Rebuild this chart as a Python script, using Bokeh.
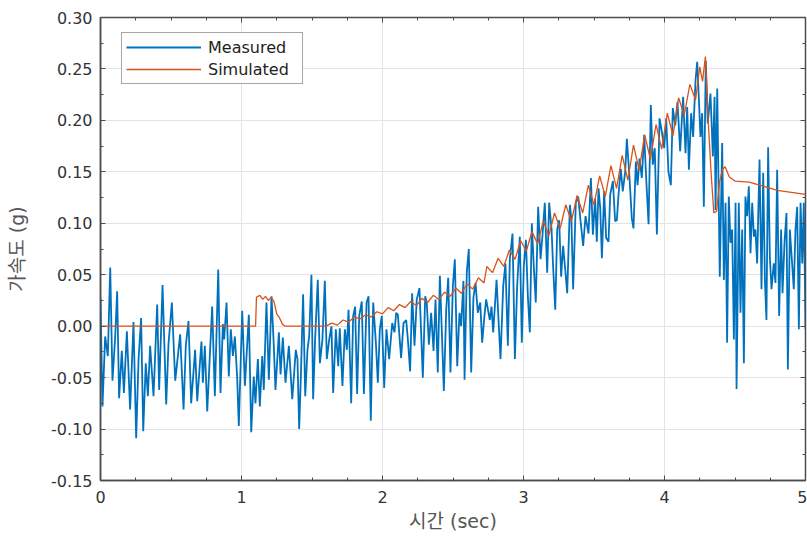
from bokeh.plotting import figure
from bokeh.models import (Range1d, LinearAxis, FixedTicker,
                          NumeralTickFormatter, Legend, LegendItem)
from bokeh.embed import file_html
from bokeh.resources import INLINE

# ---------------- data ----------------
meas_t = [
    0.000, 0.014, 0.033, 0.052, 0.069, 0.085, 0.104, 0.118, 0.132, 0.151,
    0.166, 0.187, 0.210, 0.234, 0.253, 0.270, 0.288, 0.303, 0.321, 0.336,
    0.352, 0.376, 0.402, 0.416, 0.440, 0.466, 0.482, 0.506, 0.530, 0.565,
    0.589, 0.605, 0.624, 0.643, 0.671,
    0.686, 0.716, 0.726, 0.740, 0.757, 0.773, 0.792, 0.811, 0.835, 0.851,
    0.868, 0.877, 0.894, 0.910, 0.924, 0.939, 0.953, 0.969, 0.981, 1.005,
    1.024, 1.052, 1.069, 1.087, 1.099, 1.116, 1.130, 1.147, 1.158, 1.177,
    1.194, 1.213, 1.229, 1.241, 1.265, 1.277, 1.293, 1.312, 1.336, 1.360,
    1.385, 1.397, 1.409, 1.421, 1.437, 1.452, 1.468, 1.480, 1.496, 1.508,
    1.522, 1.541, 1.556, 1.574, 1.591, 1.605, 1.622, 1.638, 1.650, 1.669,
    1.686, 1.697, 1.716, 1.733, 1.747, 1.759, 1.778, 1.792, 1.806, 1.820,
    1.835, 1.853, 1.868, 1.887, 1.901, 1.917, 1.934, 1.953, 1.967, 1.981,
    1.995, 2.012, 2.028, 2.047,
    2.069, 2.085, 2.097, 2.109, 2.132, 2.149, 2.168, 2.180, 2.196, 2.210,
    2.227, 2.243, 2.262, 2.286, 2.303, 2.314, 2.329, 2.345, 2.362, 2.376,
    2.392, 2.407, 2.421, 2.435, 2.452, 2.466, 2.482, 2.499, 2.513, 2.530,
    2.546, 2.558, 2.574, 2.582, 2.598, 2.612, 2.629, 2.645, 2.660, 2.676,
    2.693, 2.707, 2.723, 2.735,
    2.761, 2.773, 2.785, 2.809, 2.825, 2.837, 2.856, 2.872, 2.889, 2.903,
    2.922, 2.939, 2.955, 2.974, 2.988, 3.002, 3.017, 3.031, 3.045, 3.059,
    3.073, 3.087, 3.104, 3.121, 3.135, 3.151, 3.168, 3.182, 3.199, 3.210,
    3.225, 3.239, 3.253, 3.267, 3.281, 3.296, 3.310, 3.329, 3.340, 3.352,
    3.371, 3.388, 3.404, 3.423, 3.440,
    3.461, 3.478, 3.492, 3.508, 3.520, 3.532, 3.544, 3.556, 3.572, 3.586,
    3.603, 3.615, 3.634, 3.650, 3.662, 3.674, 3.690, 3.704, 3.721, 3.733,
    3.752, 3.768, 3.780, 3.797, 3.809, 3.823, 3.839, 3.856, 3.870, 3.887,
    3.903, 3.917, 3.931, 3.946, 3.965, 3.981, 3.998, 4.012, 4.028, 4.045,
    4.059, 4.076, 4.092, 4.111,
    4.132, 4.149, 4.161, 4.173, 4.189, 4.203, 4.220, 4.232, 4.243, 4.255,
    4.267, 4.279, 4.293, 4.307, 4.326, 4.343, 4.355, 4.362, 4.374, 4.392,
    4.409, 4.421, 4.433, 4.444, 4.456, 4.468, 4.480, 4.492, 4.504, 4.511,
    4.527, 4.539, 4.551, 4.563, 4.574, 4.586, 4.598, 4.610, 4.622, 4.634,
    4.645, 4.657, 4.674, 4.688, 4.700, 4.712, 4.723, 4.735, 4.747, 4.759,
    4.775, 4.787, 4.799, 4.813, 4.827, 4.837, 4.851, 4.865, 4.875, 4.889,
    4.905, 4.917, 4.929, 4.941, 4.953, 4.965, 4.977, 4.988, 5.000,
]
meas_v = [
    0.027, -0.078, -0.010, -0.029, 0.057, -0.053, -0.011, 0.034, -0.070, -0.024,
    -0.065, -0.005, -0.081, 0.004, -0.109, -0.032, 0.008, -0.102, -0.036, -0.068,
    -0.019, -0.068, 0.021, -0.062, 0.040, -0.076, -0.018, 0.023, -0.053, -0.008,
    -0.081, -0.019, 0.005, -0.075, -0.023,
    -0.073, -0.015, -0.055, -0.019, -0.083, -0.036, 0.019, -0.068, 0.055, -0.065,
    0.002, -0.013, 0.023, -0.049, -0.003, -0.029, -0.010, -0.049, -0.097, 0.015,
    -0.058, 0.011, -0.103, -0.049, -0.075, -0.032, -0.078, -0.029, -0.062, 0.023,
    -0.052, 0.029, -0.019, -0.062, -0.006, -0.047, -0.011, -0.055, -0.019, -0.071,
    -0.023, -0.032, -0.100, -0.049, 0.031, -0.068, -0.023, -0.010, 0.050, -0.071,
    -0.013, 0.045, -0.036, -0.013, 0.044, -0.032, -0.013, 0.000, -0.065, -0.003,
    -0.039, -0.002, -0.058, -0.003, -0.023, 0.016, -0.075, 0.010, 0.019, -0.066,
    0.010, 0.024, -0.066, 0.023, 0.029, -0.092, 0.023, -0.016, -0.055, -0.003,
    0.010, -0.060, -0.003, -0.032,
    0.003, -0.006, 0.013, 0.011, -0.031, 0.003, 0.006, -0.013, -0.044, 0.032,
    -0.019, 0.026, 0.037, -0.050, 0.029, 0.023, -0.018, 0.013, -0.024, 0.026,
    -0.045, 0.049, -0.006, -0.063, 0.016, 0.047, -0.045, 0.039, 0.065, -0.039,
    0.013, 0.000, 0.044, -0.052, 0.053, 0.075, -0.045, 0.028, 0.042, 0.013,
    0.023, -0.016, 0.010, 0.026,
    0.006, 0.019, -0.006, 0.045, 0.000, -0.032, 0.039, 0.061, -0.019, 0.065,
    0.090, -0.032, 0.039, 0.087, -0.016, 0.058, 0.084, 0.029, -0.006, 0.100,
    0.058, 0.023, 0.116, 0.065, 0.089, 0.120, 0.052, 0.120, 0.094, 0.058,
    0.016, 0.094, 0.103, 0.048, 0.078, 0.055, 0.032, 0.118, 0.103, 0.036,
    0.120, 0.126, 0.103, 0.078, 0.107,
    0.090, 0.144, 0.089, 0.124, 0.082, 0.134, 0.115, 0.066, 0.131, 0.086,
    0.082, 0.128, 0.141, 0.102, 0.103, 0.128, 0.153, 0.131, 0.150, 0.182,
    0.144, 0.105, 0.095, 0.160, 0.137, 0.163, 0.144, 0.186, 0.144, 0.099,
    0.215, 0.157, 0.173, 0.089, 0.202, 0.189, 0.173, 0.202, 0.150, 0.137,
    0.212, 0.195, 0.218, 0.170,
    0.223, 0.168, 0.213, 0.152, 0.207, 0.184, 0.239, 0.257, 0.223, 0.184,
    0.207, 0.116, 0.258, 0.197, 0.226, 0.165, 0.223, 0.113, 0.231, 0.048,
    0.178, 0.045, 0.120, -0.016, 0.126, 0.081, 0.094, -0.013, 0.120, -0.061,
    0.120, 0.013, 0.094, -0.036, 0.126, 0.107, 0.136, 0.071, 0.120, 0.087,
    0.094, 0.061, 0.162, 0.036, 0.149, 0.045, 0.006, 0.174, 0.068, 0.036,
    0.061, 0.042, 0.152, 0.010, 0.094, 0.032, 0.081, 0.110, -0.042, 0.094,
    0.061, 0.036, 0.094, 0.116, -0.003, 0.120, 0.061, 0.120, -0.003,
]

sim_t = [
    0.00, 1.10, 1.106, 1.13, 1.15, 1.17, 1.19, 1.21, 1.23, 1.25,
    1.27, 1.29, 1.31, 1.60, 1.64, 1.68, 1.72, 1.76, 1.80, 1.84,
    1.88, 1.92, 1.96, 2.00, 2.04, 2.08, 2.12, 2.16, 2.20, 2.24,
    2.28, 2.32, 2.36, 2.40, 2.44, 2.48, 2.52, 2.56, 2.60, 2.64,
    2.68, 2.72, 2.74, 2.78, 2.82, 2.86, 2.90, 2.94, 2.98, 3.02,
    3.06, 3.10, 3.14, 3.18, 3.22, 3.26, 3.30, 3.34, 3.38, 3.42,
    3.46, 3.50, 3.54, 3.58, 3.62, 3.66, 3.70, 3.74, 3.78, 3.82,
    3.86, 3.90, 3.94, 3.98, 4.02, 4.06, 4.10, 4.14, 4.18, 4.22,
    4.25, 4.27, 4.29, 4.31, 4.33, 4.35, 4.37, 4.39, 4.41, 4.43,
    4.46, 4.50, 4.60, 4.70, 4.80, 4.90, 5.00,
]
sim_v = [
    0.000, 0.000, 0.028, 0.030, 0.026, 0.029, 0.025, 0.028, 0.024, 0.012,
    0.008, 0.002, 0.000, 0.000, 0.003, 0.001, 0.006, 0.004, 0.009, 0.007,
    0.011, 0.009, 0.014, 0.012, 0.018, 0.015, 0.021, 0.018, 0.024, 0.020,
    0.027, 0.023, 0.030, 0.026, 0.033, 0.029, 0.037, 0.032, 0.041, 0.036,
    0.047, 0.042, 0.058, 0.052, 0.066, 0.058, 0.074, 0.065, 0.083, 0.073,
    0.092, 0.080, 0.102, 0.088, 0.110, 0.095, 0.118, 0.102, 0.127, 0.110,
    0.137, 0.118, 0.146, 0.126, 0.156, 0.134, 0.166, 0.142, 0.176, 0.152,
    0.186, 0.162, 0.196, 0.172, 0.207, 0.185, 0.222, 0.205, 0.235, 0.220,
    0.252, 0.238, 0.262, 0.200, 0.150, 0.110, 0.112, 0.140, 0.152, 0.155,
    0.145, 0.141, 0.140, 0.136, 0.132, 0.130, 0.128,
]

x_ticks = [0, 1, 2, 3, 4, 5]
y_ticks = [-0.15, -0.10, -0.05, 0.00, 0.05, 0.10, 0.15, 0.20, 0.25, 0.30]
x_minor_per_major = 4
y_minor_per_major = 2
x_label = "시간 (sec)"
y_label = "가속도 (g)"
series_names = ["Measured", "Simulated"]

# minor tick positions derived from the major tick lists
x_minor = [a + (b - a) * k / x_minor_per_major
           for a, b in zip(x_ticks[:-1], x_ticks[1:])
           for k in range(1, x_minor_per_major)]
y_minor = [a + (b - a) * k / y_minor_per_major
           for a, b in zip(y_ticks[:-1], y_ticks[1:])
           for k in range(1, y_minor_per_major)]

# ---------------- figure ----------------
FONT = "DejaVu Sans, Noto Sans CJK KR"
AXC = "#4d4d4d"

p = figure(frame_width=705, frame_height=463,
           min_border_left=100, min_border_right=2,
           min_border_top=17, min_border_bottom=57,
           x_range=Range1d(0, 5), y_range=Range1d(-0.15, 0.30),
           output_backend="svg", toolbar_location=None,
           background_fill_color="white", border_fill_color="white")

p.outline_line_color = AXC
p.outline_line_width = 1.5

xt = FixedTicker(ticks=x_ticks, minor_ticks=x_minor)
yt = FixedTicker(ticks=y_ticks, minor_ticks=y_minor)

p.xaxis.ticker = xt
p.yaxis.ticker = yt
p.yaxis.formatter = NumeralTickFormatter(format="0.00")
p.xgrid.ticker = xt
p.ygrid.ticker = yt
for g in (p.xgrid, p.ygrid):
    g.grid_line_color = "#e3e3e3"
    g.grid_line_width = 1

for ax in (p.xaxis[0], p.yaxis[0]):
    ax.axis_line_color = AXC
    ax.axis_line_width = 1.5
    ax.major_tick_line_color = AXC
    ax.minor_tick_line_color = AXC
    ax.major_tick_in = 5
    ax.major_tick_out = 0
    ax.minor_tick_in = 3
    ax.minor_tick_out = 0
    ax.major_label_text_font = FONT
    ax.major_label_text_font_size = "16px"
    ax.major_label_text_color = "#333333"
    ax.axis_label_text_font = FONT
    ax.axis_label_text_font_size = "19px"
    ax.axis_label_text_font_style = "normal"
    ax.axis_label_text_color = "#555555"

p.xaxis.axis_label = x_label
p.yaxis.axis_label = y_label
p.yaxis.major_label_standoff = 8
p.xaxis.major_label_standoff = 10
p.yaxis.axis_label_standoff = 20
p.xaxis.axis_label_standoff = 4

# unlabeled tick axes on top and right (box style)
blank_x = {t: "" for t in x_ticks}
blank_y = {t: "" for t in y_ticks}
top = LinearAxis(ticker=xt, major_label_overrides=blank_x,
                 major_label_standoff=0, axis_line_color=AXC,
                 major_tick_in=5, major_tick_out=0, minor_tick_in=3,
                 minor_tick_out=0, major_tick_line_color=AXC,
                 minor_tick_line_color=AXC)
right = LinearAxis(ticker=yt, major_label_overrides=blank_y,
                   major_label_standoff=0, axis_line_color=AXC,
                   major_tick_in=5, major_tick_out=0, minor_tick_in=3,
                   minor_tick_out=0, major_tick_line_color=AXC,
                   minor_tick_line_color=AXC)
p.add_layout(top, "above")
p.add_layout(right, "right")

r1 = p.line(meas_t, meas_v, line_color="#0072BD", line_width=1.8)
r2 = p.line(sim_t, sim_v, line_color="#D95319", line_width=1.3)

legend = Legend(items=[LegendItem(label=series_names[0], renderers=[r1]),
                       LegendItem(label=series_names[1], renderers=[r2])],
                location=(21, 396))
legend.padding = 4
legend.spacing = 2
legend.glyph_width = 75
legend.glyph_height = 20
legend.label_height = 20
legend.label_width = 90
legend.label_standoff = 7
legend.label_text_font = FONT
legend.label_text_font_size = "16px"
legend.label_text_color = "#222222"
legend.border_line_color = AXC
legend.border_line_width = 1.5
legend.background_fill_color = "white"
legend.background_fill_alpha = 1
p.add_layout(legend)

open("out.html", "w").write(file_html(p, INLINE))
